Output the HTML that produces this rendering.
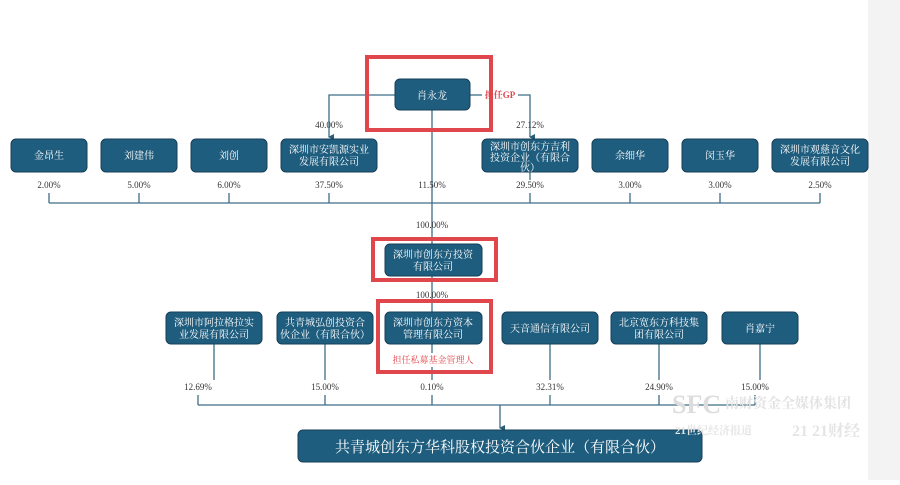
<!DOCTYPE html>
<html><head><meta charset="utf-8"><style>
body{margin:0;background:#fff;}
svg text{font-family:"Liberation Serif","Noto Serif CJK SC",serif;}
</style></head><body>
<svg width="900" height="480" xmlns="http://www.w3.org/2000/svg">
<rect x="868" y="0" width="32" height="480" fill="#f3f3f3"/>
<defs><marker id="a" markerWidth="6" markerHeight="6" refX="3" refY="5" orient="auto" markerUnits="userSpaceOnUse"><path d="M0,0 L6,0 L3,6 z" fill="#2a5d78"/></marker></defs>
<g stroke="#3d6e87" stroke-width="1.3" fill="none">
<polyline points="395,95 329,95 329,137" marker-end="url(#a)"/>
<line x1="470" y1="95" x2="482" y2="95"/>
<polyline points="518,95 530,95 530,137" marker-end="url(#a)"/>
<line x1="432" y1="110" x2="432" y2="244"/>
<line x1="49" y1="203" x2="820" y2="203"/>
<line x1="49" y1="193" x2="49" y2="203"/><line x1="139" y1="193" x2="139" y2="203"/><line x1="229" y1="193" x2="229" y2="203"/><line x1="329" y1="193" x2="329" y2="203"/><line x1="530" y1="172" x2="530" y2="180"/><line x1="530" y1="193" x2="530" y2="203"/><line x1="630" y1="193" x2="630" y2="203"/><line x1="720" y1="193" x2="720" y2="203"/><line x1="820" y1="193" x2="820" y2="203"/>
<line x1="432" y1="276" x2="432" y2="312"/>
<line x1="432" y1="344" x2="432" y2="353"/>
<line x1="432" y1="367" x2="432" y2="380"/>
<line x1="214" y1="344" x2="214" y2="380"/><line x1="325" y1="344" x2="325" y2="380"/><line x1="550" y1="344" x2="550" y2="380"/><line x1="659" y1="344" x2="659" y2="380"/><line x1="760" y1="344" x2="760" y2="380"/>
<line x1="198" y1="405" x2="755" y2="405"/>
<line x1="198" y1="395" x2="198" y2="405"/><line x1="325" y1="395" x2="325" y2="405"/><line x1="432" y1="395" x2="432" y2="405"/><line x1="550" y1="395" x2="550" y2="405"/><line x1="659" y1="395" x2="659" y2="405"/><line x1="755" y1="395" x2="755" y2="405"/>
<line x1="500" y1="405" x2="500" y2="428" marker-end="url(#a)"/>
</g>
<g fill="#1f5d7e" stroke="#163f57" stroke-width="1">
<rect x="395" y="79" width="75" height="31" rx="5"/>
<rect x="11" y="139" width="76" height="33" rx="5"/>
<rect x="101" y="139" width="76" height="33" rx="5"/>
<rect x="191" y="139" width="76" height="33" rx="5"/>
<rect x="281" y="139" width="96" height="33" rx="5"/>
<rect x="482" y="139" width="96" height="33" rx="5"/>
<rect x="592" y="139" width="76" height="33" rx="5"/>
<rect x="682" y="139" width="76" height="33" rx="5"/>
<rect x="772" y="139" width="96" height="33" rx="5"/>
<rect x="385" y="244" width="97" height="32" rx="5"/>
<rect x="166" y="312" width="96" height="32" rx="5"/>
<rect x="277" y="312" width="96" height="32" rx="5"/>
<rect x="385" y="312" width="97" height="32" rx="5"/>
<rect x="502" y="312" width="96" height="32" rx="5"/>
<rect x="611" y="312" width="96" height="32" rx="5"/>
<rect x="722" y="312" width="76" height="32" rx="5"/>
<rect x="298" y="430" width="404" height="32" rx="5"/>
</g>
<g fill="none" stroke="#e0474c" stroke-width="4">
<rect x="367" y="57" width="124" height="73"/>
<rect x="373" y="239" width="123" height="41"/>
<rect x="378" y="301" width="113" height="71"/>
</g>
<g fill="#fff" font-size="10" text-anchor="middle">
<text x="432" y="99">肖永龙</text>
<text x="49" y="159">金昂生</text>
<text x="139" y="159">刘建伟</text>
<text x="229" y="159">刘创</text>
<text x="329" y="153">深圳市安凯源实业</text><text x="329" y="165">发展有限公司</text>
<text x="530" y="150">深圳市创东方吉利</text><text x="530" y="161">投资企业（有限合</text><text x="530" y="171">伙）</text>
<text x="630" y="159">余细华</text>
<text x="720" y="159">闵玉华</text>
<text x="820" y="153">深圳市观慈音文化</text><text x="820" y="165">发展有限公司</text>
<text x="433" y="258">深圳市创东方投资</text><text x="433" y="270">有限公司</text>
<text x="214" y="326">深圳市阿拉格拉实</text><text x="214" y="338">业发展有限公司</text>
<text x="325" y="326">共青城弘创投资合</text><text x="325" y="338">伙企业（有限合伙）</text>
<text x="433" y="326">深圳市创东方资本</text><text x="433" y="338">管理有限公司</text>
<text x="550" y="332">天音通信有限公司</text>
<text x="659" y="326">北京宽东方科技集</text><text x="659" y="338">团有限公司</text>
<text x="760" y="332">肖嘉宁</text>
<text x="500" y="452" font-size="15">共青城创东方华科股权投资合伙企业（有限合伙）</text>
</g>
<g fill="#333" font-size="9" text-anchor="middle">
<text x="329" y="128">40.00%</text><text x="530" y="128">27.12%</text>
<text x="49" y="188">2.00%</text><text x="139" y="188">5.00%</text><text x="229" y="188">6.00%</text><text x="329" y="188">37.50%</text><text x="432" y="188">11.50%</text><text x="530" y="188">29.50%</text><text x="630" y="188">3.00%</text><text x="720" y="188">3.00%</text><text x="820" y="188">2.50%</text>
<text x="432" y="228">100.00%</text><text x="432" y="298">100.00%</text>
<text x="198" y="390">12.69%</text><text x="325" y="390">15.00%</text><text x="432" y="390">0.10%</text><text x="550" y="390">32.31%</text><text x="659" y="390">24.90%</text><text x="755" y="390">15.00%</text>
</g>
<text x="500" y="98" fill="#e0474c" font-size="9" font-weight="bold" text-anchor="middle">担任GP</text>
<text x="433" y="363" fill="#e0474c" font-size="9" text-anchor="middle">担任私募基金管理人</text>
<g fill="#ddd" font-family="Liberation Sans" font-weight="bold">
<text x="672" y="413" font-size="26">SFC</text>
<text x="725" y="408" font-size="14" fill="#e2e2e2">南财资金全媒体集团</text>
<text x="675" y="434" font-size="11" fill="#e5e5e5">21世纪经济报道</text>
<text x="792" y="436" font-size="16" fill="#e5e5e5">21 21财经</text>
</g>
</svg>
</body></html>
